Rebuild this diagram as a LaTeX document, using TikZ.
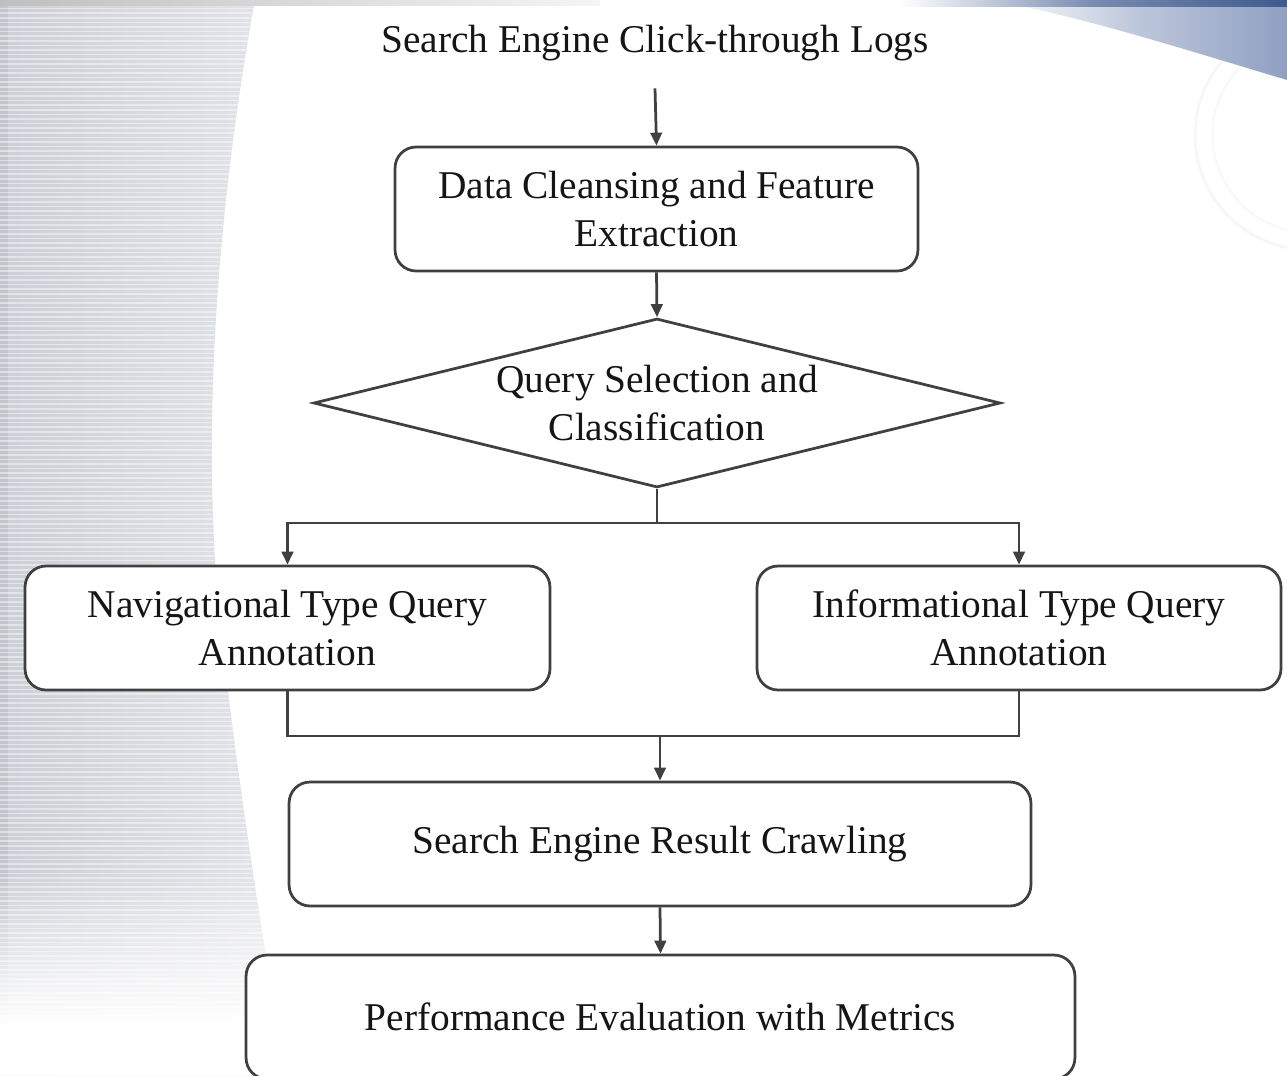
\documentclass[tikz,border=0pt]{standalone}
\usepackage{fontspec}
\setmainfont{Liberation Serif}
\usetikzlibrary{shapes.geometric,arrows.meta,fadings}

\definecolor{inkline}{HTML}{404040}
\definecolor{inktext}{HTML}{151515}
\definecolor{panelL}{HTML}{CDCFD6}
\definecolor{panelR}{HTML}{E5E6EA}
\definecolor{bandblue}{HTML}{90A0C2}
\definecolor{banddark}{HTML}{3E5A8E}

\tikzfading[name=fadebottom, top color=transparent!100, bottom color=transparent!0]

\tikzset{
  flowtext/.style={font=\fontsize{22.4}{27.5}\selectfont, text=inktext, align=center},
  stepbox/.style={flowtext, draw=inkline, line width=0.055cm, rounded corners=0.42cm,
                  minimum height=2.48cm, inner sep=0pt, fill=white},
  decision/.style={draw=inkline, line width=0.055cm, diamond, inner sep=0pt,
                   minimum width=13.74cm, minimum height=3.38cm, fill=white},
  link/.style={draw=inkline, line width=0.055cm},
  arr/.style={link, -{Triangle[length=0.26cm,width=0.23cm]}},
}

\begin{document}
\begin{tikzpicture}[x=0.02cm, y=-0.02cm]
\useasboundingbox (0,0) rectangle (1287,1075);
\clip (0,0) rectangle (1287,1075);

% ---------- slide background ----------
\fill[white] (0,0) rectangle (1287,1075);
% faint seal
\draw[gray!6, line width=0.06cm] (1310,135) circle[radius=2.3cm];
\draw[gray!5, line width=0.05cm] (1310,135) circle[radius=1.95cm];
% striped side panel
\begin{scope}
  \clip (0,0) -- (255,0) .. controls (215,220) and (200,450) .. (222,640)
        .. controls (240,800) and (265,950) .. (285,1075) -- (0,1075) -- cycle;
  \shade[left color=panelL, right color=panelR] (0,0) rectangle (300,1075);
  \fill[panelL!85!black, opacity=0.3] (0,0) rectangle (8,1075);
  \foreach \yy in {4,8.6,...,1075}
    \draw[white, opacity=0.45, line width=0.035cm] (0,\yy) -- (300,\yy);
\end{scope}
% fade the panel out towards the bottom
\fill[white, path fading=fadebottom] (0,870) rectangle (300,1025);
\fill[white] (0,1025) rectangle (300,1075);
% top edge strips
\shade[left color=gray!50, right color=gray!8] (0,0) rectangle (600,5);
% blue band in the upper right corner
\shade[left color=white, right color=bandblue, middle color=bandblue!60]
  (990,0) -- (1287,0) -- (1287,80) .. controls (1180,48) and (1080,16) .. (990,0) -- cycle;
\shade[left color=white, right color=banddark, middle color=banddark!70] (900,0) rectangle (1287,6);

% ---------- flow chart ----------
\node[flowtext, minimum height=1.8cm, inner sep=0pt] (logs) at (655,43)
  {Search Engine Click-through Logs};

\node[stepbox, minimum width=10.46cm] (clean) at (656.5,209)
  {Data Cleansing and Feature\\Extraction};

\node[decision] (query) at (657,403) {};
\node[flowtext, inner sep=0pt] (qtext) at (query.center)
  {Query Selection and\\Classification};

\node[stepbox, minimum width=10.5cm] (nav) at (287.5,628)
  {Navigational Type Query\\Annotation};
\node[stepbox, minimum width=10.48cm] (info) at (1019,628)
  {Informational Type Query\\Annotation};

\node[stepbox, minimum width=14.84cm] (crawl) at (660,844)
  {Search Engine Result Crawling};
\node[stepbox, minimum width=16.58cm] (perf) at (660.5,1017)
  {Performance Evaluation with Metrics};

\coordinate (split) at (657,523);
\coordinate (merge) at (660,736);

\draw[arr] (logs.south) -- (clean.north);
\draw[arr] (clean.south) -- (query.north);
\draw[link] (query.south) -- (split);
\draw[arr] (split) -| (nav.north);
\draw[arr] (split) -| (info.north);
\draw[link] (nav.south) |- (merge) -| (info.south);
\draw[arr] (merge) -- (crawl.north);
\draw[arr] (crawl.south) -- (perf.north);
\end{tikzpicture}
\end{document}
